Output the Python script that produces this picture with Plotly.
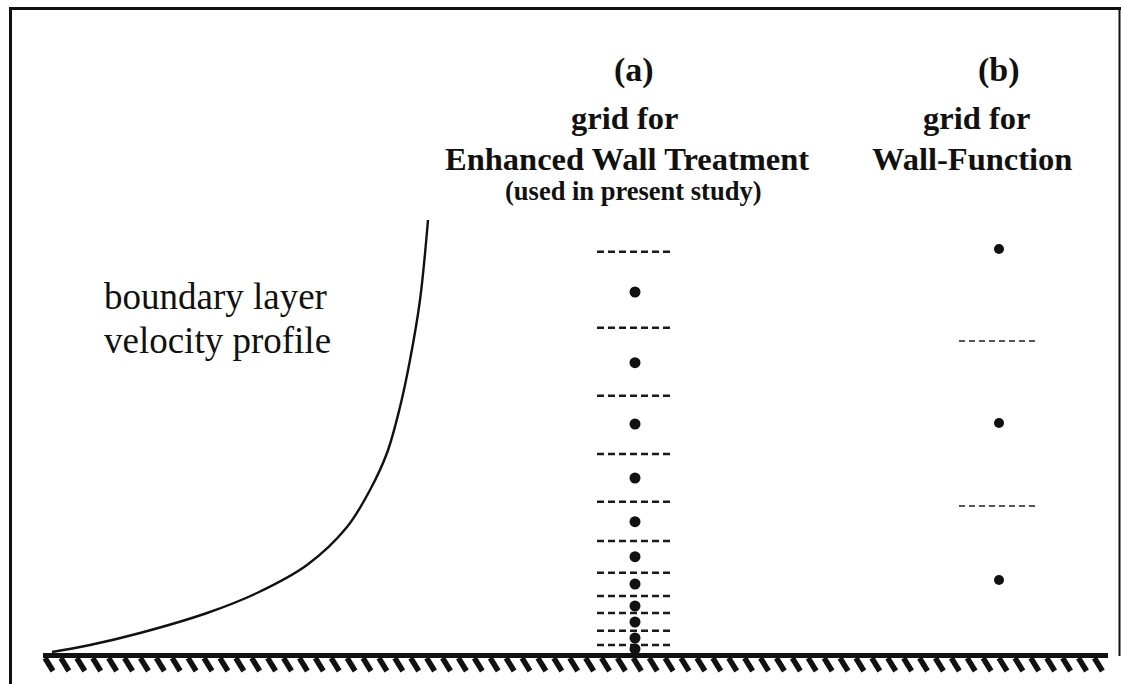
import numpy as np
import plotly.graph_objects as go

# ---- data (diagram coordinates: x to the right, y downward, wall at y=655) ----
profile_x = [52, 90, 140, 207, 257, 307, 347, 370, 387, 400, 410, 420, 428]
profile_y = [652, 645, 633, 613, 593, 565, 527, 490, 453, 407, 360, 300, 220]

grid_a_x = 635
grid_a_dots_y = [292, 362.7, 424, 478, 521.7, 556.7, 584, 606, 622, 638, 649]
grid_a_lines_y = [251.7, 327.7, 395.7, 454, 501.7, 541, 572.7, 596, 613, 630.7, 645]
grid_a_line_x = [597, 674]

grid_b_x = 999
grid_b_dots_y = [249, 423, 580]
grid_b_lines_y = [341, 506]
grid_b_line_x = [959, 1039]

wall_y = 655.5
wall_x = [43, 1108]

label_profile = ["boundary layer", "velocity profile"]
label_a = ["(a)", "grid for", "Enhanced Wall Treatment", "(used in present study)"]
label_b = ["(b)", "grid for", "Wall-Function"]

W, H = 1122, 684
INK = "#111111"

fig = go.Figure()

# velocity profile
fig.add_trace(go.Scatter(x=profile_x, y=profile_y, mode="lines",
                         line=dict(color=INK, width=2.4, shape="spline", smoothing=1.0),
                         hoverinfo="skip"))

def dashed_rows(ys, xr, color, dash, width):
    xs, yy = [], []
    for y in ys:
        xs += [xr[0], xr[1], None]
        yy += [y, y, None]
    return go.Scatter(x=xs, y=yy, mode="lines",
                      line=dict(color=color, width=width, dash=dash),
                      hoverinfo="skip")

fig.add_trace(dashed_rows(grid_a_lines_y, grid_a_line_x, "#1a1a1a", "7px,4px", 2.6))
fig.add_trace(dashed_rows(grid_b_lines_y, grid_b_line_x, "#555555", "6px,4px", 2))

fig.add_trace(go.Scatter(x=[grid_a_x] * len(grid_a_dots_y), y=grid_a_dots_y, mode="markers",
                         marker=dict(color=INK, size=11, line=dict(width=0)), hoverinfo="skip"))
fig.add_trace(go.Scatter(x=[grid_b_x] * len(grid_b_dots_y), y=grid_b_dots_y, mode="markers",
                         marker=dict(color=INK, size=10, line=dict(width=0)), hoverinfo="skip"))

# wall hatching
hx, hy = [], []
for x0 in np.arange(wall_x[0] + 2, wall_x[1] - 6, 15.9):
    hx += [x0, x0 + 8, None]
    hy += [658, 671, None]
fig.add_trace(go.Scatter(x=hx, y=hy, mode="lines", line=dict(color=INK, width=5.5),
                         hoverinfo="skip"))

shapes = [
    dict(type="line", x0=wall_x[0], x1=wall_x[1], y0=wall_y, y1=wall_y,
         line=dict(color=INK, width=5)),
    dict(type="line", x0=10.5, x1=10.5, y0=8, y1=684, line=dict(color=INK, width=3)),
    dict(type="line", x0=9, x1=1121, y0=8.5, y1=8.5, line=dict(color=INK, width=3)),
    dict(type="line", x0=1119.5, x1=1119.5, y0=8, y1=656, line=dict(color=INK, width=2)),
]

serif = "Liberation Serif, Times New Roman, serif"
ann = []
for txt, yc in zip(label_profile, [296, 340]):
    ann.append(dict(x=102, y=yc, text=txt, xanchor="left", yanchor="middle", showarrow=False,
                    font=dict(family=serif, size=37, color=INK)))

a_pos = [(634, 70, 34), (624, 118, 32.5), (627, 159, 32.5), (633, 191, 26.5)]
for txt, (xc, yc, s) in zip(label_a, a_pos):
    ann.append(dict(x=xc, y=yc, text="<b>%s</b>" % txt, xanchor="center", yanchor="middle",
                    showarrow=False, font=dict(family=serif, size=s, color=INK)))
b_pos = [(999, 70, 34), (976, 118, 32.5), (972, 159, 32.5)]
for txt, (xc, yc, s) in zip(label_b, b_pos):
    ann.append(dict(x=xc, y=yc, text="<b>%s</b>" % txt, xanchor="center", yanchor="middle",
                    showarrow=False, font=dict(family=serif, size=s, color=INK)))

fig.update_layout(
    width=W, height=H, margin=dict(l=0, r=0, t=0, b=0),
    paper_bgcolor="white", plot_bgcolor="white", showlegend=False,
    xaxis=dict(range=[0, W], visible=False, fixedrange=True),
    yaxis=dict(range=[H, 0], visible=False, fixedrange=True),
    shapes=shapes, annotations=ann,
)

fig.write_html("out.html", config={"displayModeBar": False},
               post_script="document.body.style.margin='0';document.body.style.overflow='hidden';")
